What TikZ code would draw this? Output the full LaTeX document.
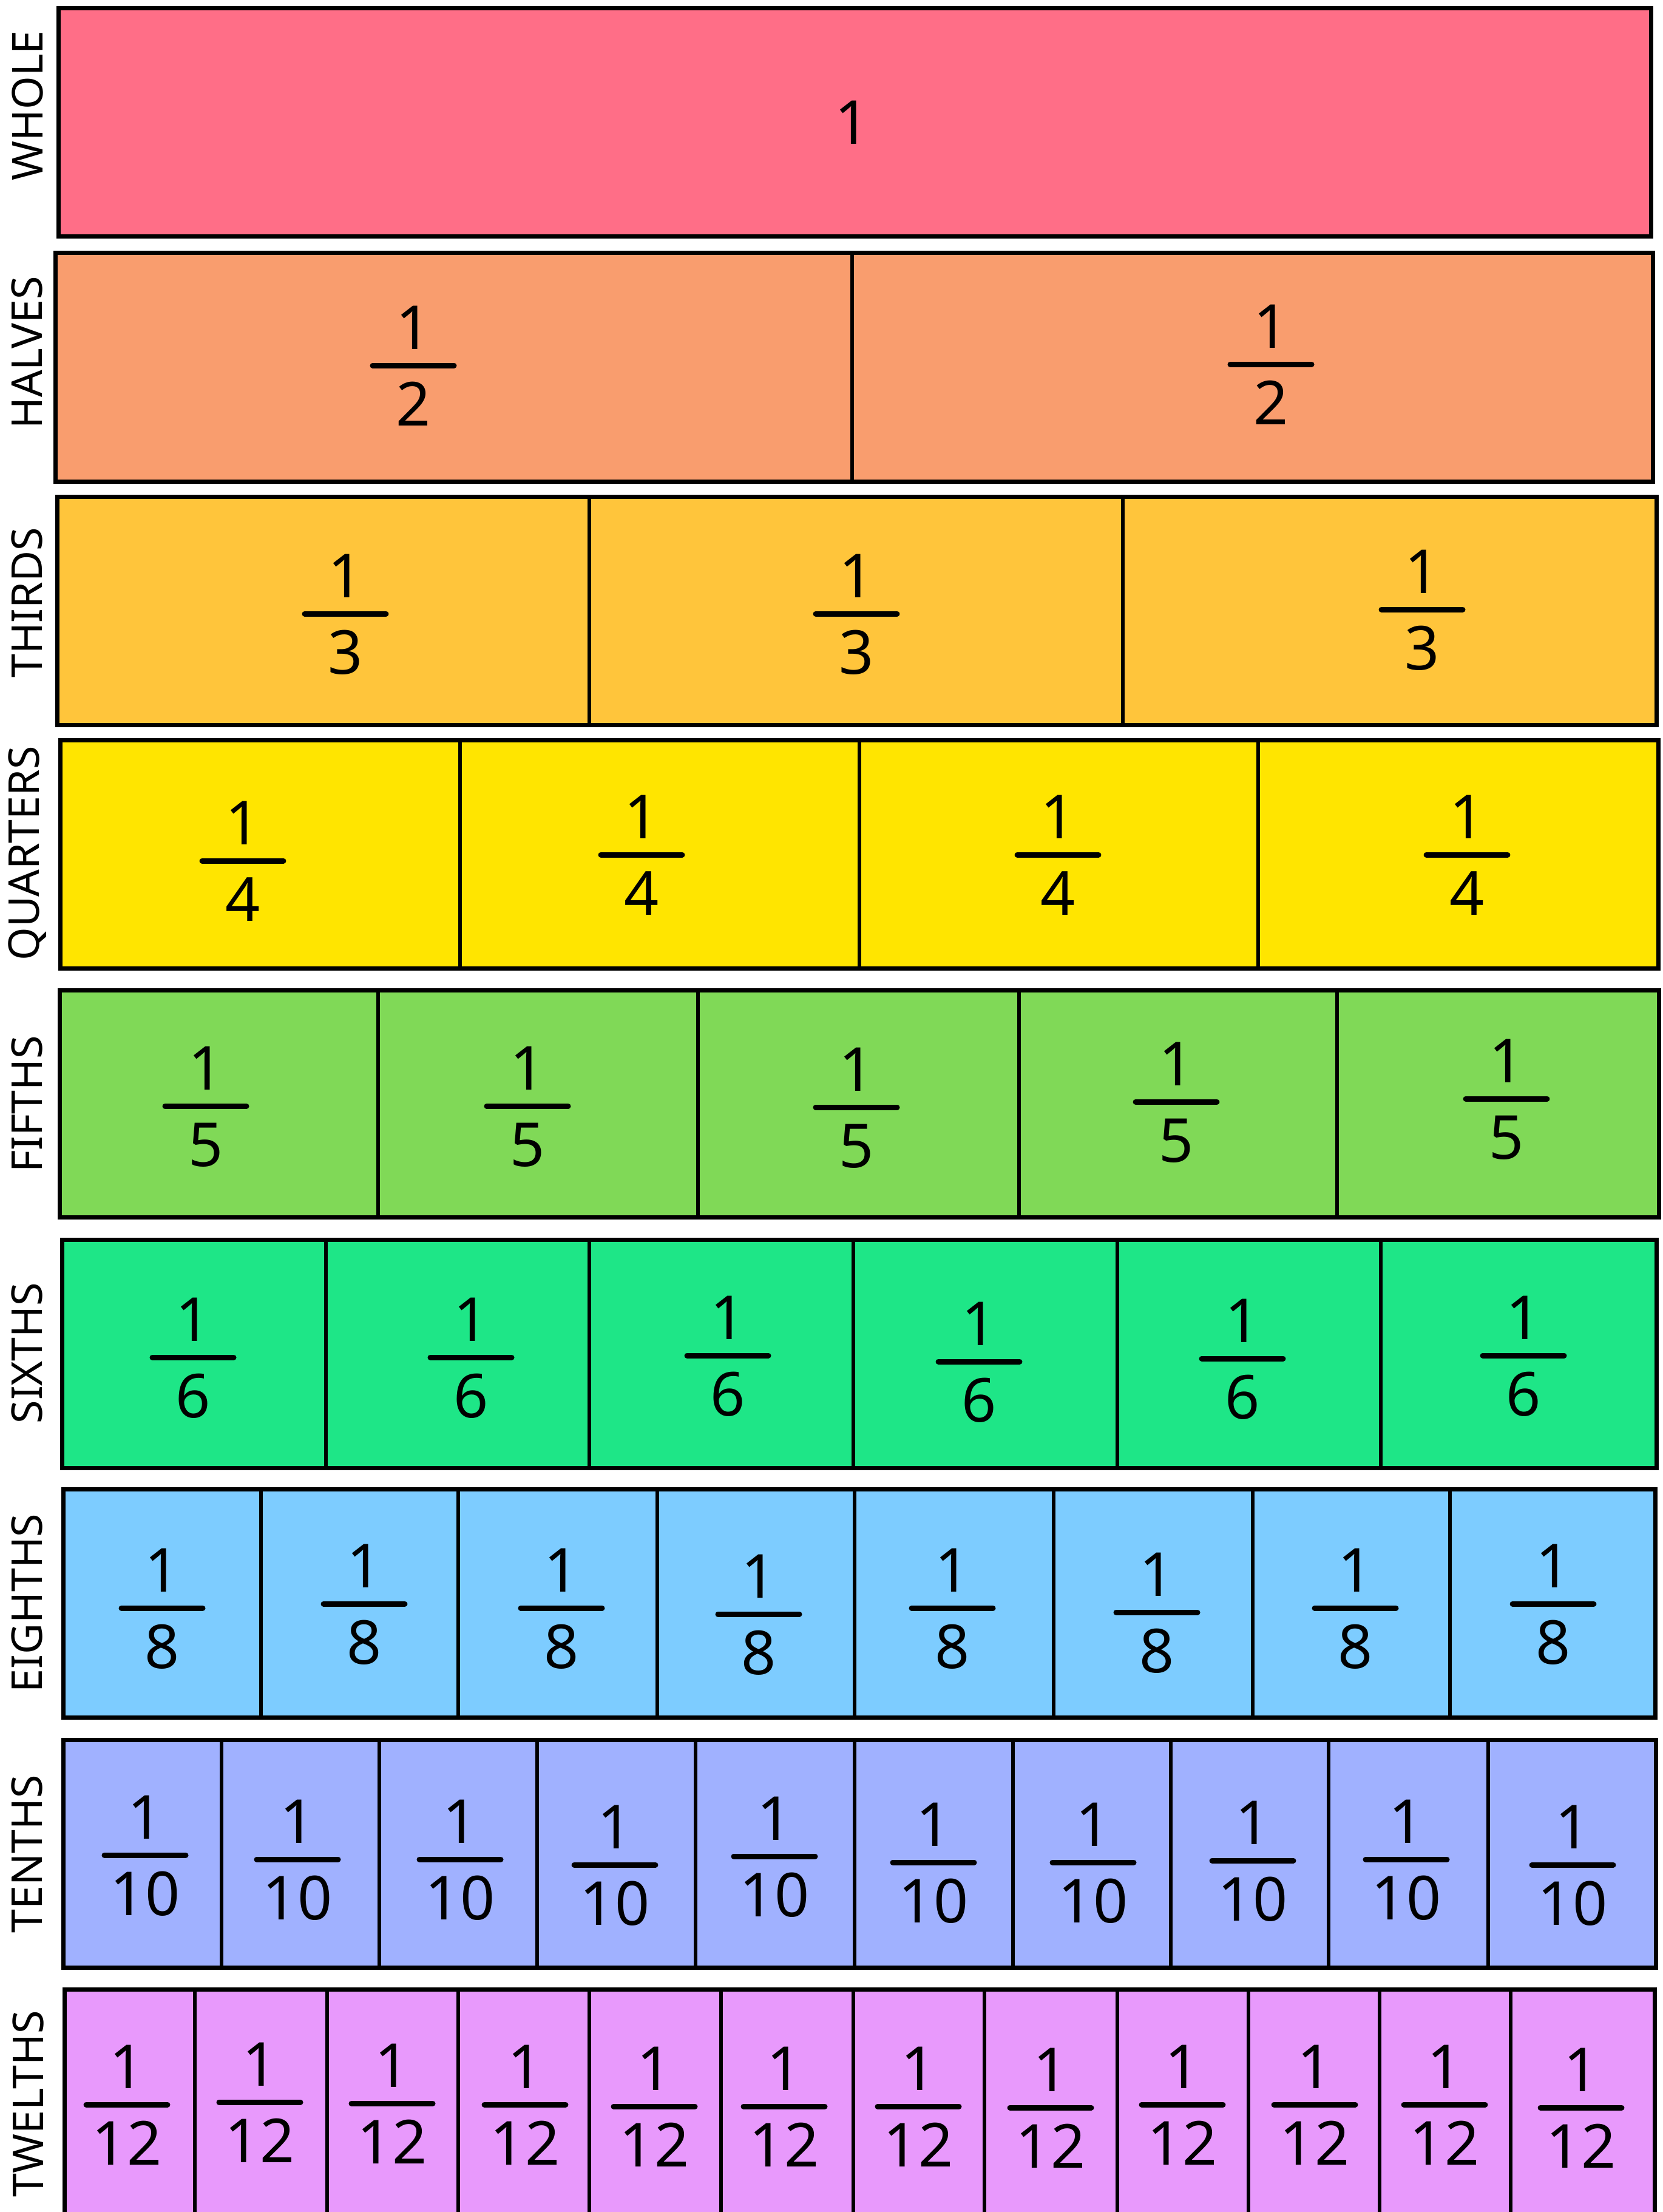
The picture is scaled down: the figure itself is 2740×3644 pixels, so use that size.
\documentclass[tikz,border=0pt]{standalone}
\usepackage{fontspec}
\setmainfont{Noto Sans}
\definecolor{cwhole}{HTML}{FF6E87}
\definecolor{chalf}{HTML}{F99D6E}
\definecolor{cthird}{HTML}{FFC53B}
\definecolor{cquarter}{HTML}{FFE500}
\definecolor{cfifth}{HTML}{80D957}
\definecolor{csixth}{HTML}{1EE687}
\definecolor{ceighth}{HTML}{7DCCFF}
\definecolor{ctenth}{HTML}{A0B1FF}
\definecolor{ctwelfth}{HTML}{E899FC}
\tikzset{
  rowbox/.style={draw=black, line width=7pt},
  divline/.style={draw=black, line width=6.5pt},
  fracbar/.style={draw=black, line width=9pt, line cap=round},
  digit/.style={anchor=base, inner sep=0pt, font=\fontsize{100}{100}\selectfont},
  rowlab/.style={rotate=90, inner sep=0pt, font=\fontsize{70}{70}\selectfont},
}
\newcommand\onefrac[4]{% name, x, bar y, denominator
  \node[digit] (#1n) at (#2,#3-27) {1};
  \node[digit] (#1d) at (#2,#3+99) {#4};
  \draw[fracbar] (#2-67,#3) -- (#2+67,#3);
}
\newcommand\rowrect[5]{% x1,y1,x2,y2,colour
  \draw[rowbox, fill=#5] (#1+3.5,#2+3.5) rectangle (#3-3.5,#4-3.5);
}
\begin{document}
\begin{tikzpicture}[x=1pt,y=-1pt]
\useasboundingbox (0,0) rectangle (2740,3644);
\clip (0,0) rectangle (2740,3644);
\fill[white] (0,0) rectangle (2740,3644);

% row labels
\node[rowlab] (l1) at (45,174) {WHOLE};
\node[rowlab] (l2) at (45,581) {HALVES};
\node[rowlab] (l3) at (45,993) {THIRDS};
\node[rowlab] (l4) at (45,1406) {QUARTERS};
\node[rowlab] (l5) at (45,1819) {FIFTHS};
\node[rowlab] (l6) at (45,2229) {SIXTHS};
\node[rowlab] (l7) at (45,2641) {EIGHTHS};
\node[rowlab] (l8) at (45,3054) {TENTHS};
\node[rowlab] (l9) at (47,3466) {TWELTHS};

% row 1
\rowrect{93}{10}{2724}{393}{cwhole}
\node[digit] (w1) at (1404,237) {1};

% row 2
\rowrect{88}{413}{2727}{797}{chalf}
\foreach \x in {1404} \draw[divline] (\x,416.5) -- (\x,793.5);
\onefrac{h1}{681}{602}{2}
\onefrac{h2}{2094}{600}{2}

% row 3
\rowrect{91}{815}{2733}{1198}{cthird}
\foreach \x in {971,1850} \draw[divline] (\x,818.5) -- (\x,1194.5);
\onefrac{t1}{569}{1011}{3}
\onefrac{t2}{1411}{1011}{3}
\onefrac{t3}{2343}{1004}{3}

% row 4
\rowrect{96}{1216}{2736}{1599}{cquarter}
\foreach \x in {758,1416,2073} \draw[divline] (\x,1219.5) -- (\x,1595.5);
\onefrac{q1}{400}{1418}{4}
\onefrac{q2}{1057}{1408}{4}
\onefrac{q3}{1743}{1408}{4}
\onefrac{q4}{2417}{1408}{4}

% row 5
\rowrect{95}{1628}{2737}{2009}{cfifth}
\foreach \x in {623,1150,1679,2203} \draw[divline] (\x,1631.5) -- (\x,2005.5);
\onefrac{v1}{339}{1822}{5}
\onefrac{v2}{869}{1822}{5}
\onefrac{v3}{1411}{1824}{5}
\onefrac{v4}{1938}{1815}{5}
\onefrac{v5}{2482}{1810}{5}

% row 6
\rowrect{99}{2039}{2733}{2422}{csixth}
\foreach \x in {537,971,1406,1841,2275} \draw[divline] (\x,2042.5) -- (\x,2418.5);
\onefrac{s1}{318}{2236}{6}
\onefrac{s2}{776}{2236}{6}
\onefrac{s3}{1199}{2233}{6}
\onefrac{s4}{1613}{2243}{6}
\onefrac{s5}{2047}{2238}{6}
\onefrac{s6}{2510}{2233}{6}

% row 7
\rowrect{101}{2450}{2731}{2833}{ceighth}
\foreach \x in {430,755,1083,1408,1736,2064,2389} \draw[divline] (\x,2453.5) -- (\x,2829.5);
\onefrac{e1}{267}{2649}{8}
\onefrac{e2}{600}{2642}{8}
\onefrac{e3}{925}{2649}{8}
\onefrac{e4}{1250}{2659}{8}
\onefrac{e5}{1569}{2649}{8}
\onefrac{e6}{1906}{2656}{8}
\onefrac{e7}{2233}{2649}{8}
\onefrac{e8}{2559}{2642}{8}

% row 8
\rowrect{101}{2863}{2732}{3245}{ctenth}
\foreach \x in {365,625,885,1146,1408,1669,1929,2189,2452} \draw[divline] (\x,2866.5) -- (\x,3241.5);
\onefrac{n1}{239}{3056}{10}
\onefrac{n2}{490}{3063}{10}
\onefrac{n3}{758}{3063}{10}
\onefrac{n4}{1013}{3072}{10}
\onefrac{n5}{1276}{3058}{10}
\onefrac{n6}{1538}{3068}{10}
\onefrac{n7}{1801}{3068}{10}
\onefrac{n8}{2064}{3065}{10}
\onefrac{n9}{2317}{3063}{10}
\onefrac{n10}{2591}{3072}{10}

% row 9
\rowrect{103}{3274}{2730}{3720}{ctwelfth}
\foreach \x in {321,539,755,971,1188,1406,1622,1841,2057,2273,2489} \draw[divline] (\x,3277.5) -- (\x,3716.5);
\onefrac{w1}{209}{3467}{12}
\onefrac{w2}{428}{3463}{12}
\onefrac{w3}{646}{3465}{12}
\onefrac{w4}{865}{3467}{12}
\onefrac{w5}{1078}{3470}{12}
\onefrac{w6}{1292}{3470}{12}
\onefrac{w7}{1513}{3470}{12}
\onefrac{w8}{1731}{3472}{12}
\onefrac{w9}{1948}{3467}{12}
\onefrac{w10}{2166}{3467}{12}
\onefrac{w11}{2380}{3467}{12}
\onefrac{w12}{2605}{3472}{12}
\end{tikzpicture}
\end{document}
